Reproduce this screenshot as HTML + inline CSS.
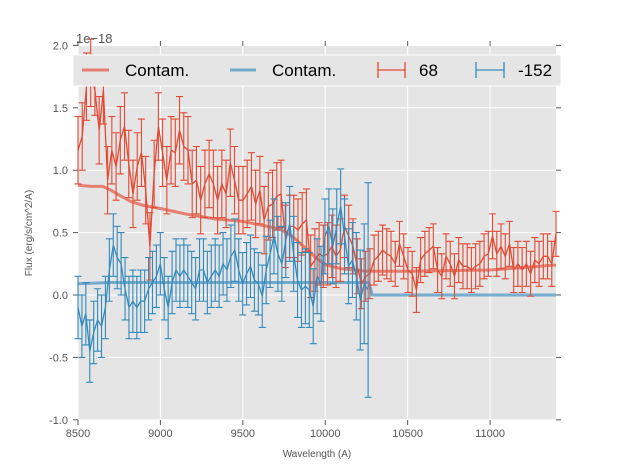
<!DOCTYPE html>
<html><head><meta charset="utf-8"><style>
body{margin:0;background:#fff}
svg text{font-family:"Liberation Sans",sans-serif}
</style></head><body>
<svg id="c" width="617" height="467" xmlns="http://www.w3.org/2000/svg">
<rect x="78" y="46" width="478" height="374" fill="#e5e5e5"/>
<g id="grid"></g><g id="ticks"></g><g id="series"></g>
<text x="76" y="43" font-size="13" fill="#555">1e−18</text>
<text x="317" y="457" font-size="10" fill="#555" text-anchor="middle">Wavelength (A)</text>
<text transform="translate(32,233) rotate(-90)" font-size="10" fill="#555" text-anchor="middle">Flux (erg/s/cm^2/A)</text>
<g>
<rect x="73" y="55" width="488" height="31" fill="#e5e5e5" stroke="#fff" stroke-width="1"/>
<line x1="82" y1="70" x2="109" y2="70" stroke="#E24A33" stroke-opacity="0.65" stroke-width="3"/>
<text x="125" y="76" font-size="17" fill="#000">Contam.</text>
<line x1="230" y1="70" x2="256" y2="70" stroke="#348ABD" stroke-opacity="0.65" stroke-width="3"/>
<text x="272" y="76" font-size="17" fill="#000">Contam.</text>
<path d="M378 62V78M378 70H405M405 62V78" stroke="#E24A33" fill="none" stroke-width="1.3"/>
<text x="419" y="76" font-size="17" fill="#000">68</text>
<path d="M476 62V78M476 70H504M504 62V78" stroke="#348ABD" fill="none" stroke-width="1.3"/>
<text x="518" y="76" font-size="17" fill="#000">-152</text>
</g>
</svg>
<script>
const xTicks=[8500,9000,9500,10000,10500,11000];
const yTicks=[-1.0,-0.5,0.0,0.5,1.0,1.5,2.0];
const redRange=[8500,11400];
const blueRange=[8500,10260];
const redVals=[1.16,1.27,1.67,1.78,1.64,1.32,1.64,0.92,1.16,1.03,1.24,1.35,1.05,0.81,1.03,1.14,0.84,0.39,0.97,1.35,
1.14,0.92,1.16,1.14,1.32,1.19,1.16,0.89,0.92,0.76,0.89,0.97,0.89,0.76,0.89,0.81,
1.06,0.92,0.76,0.76,0.81,0.87,0.73,0.84,0.60,0.71,0.73,0.79,0.81,0.47,0.55,0.55,0.52,0.57,0.60,0.23,
0.28,0.33,0.31,0.33,0.39,0.31,0.36,0.55,0.47,0.39,0.23,0.09,0.15,0.17,0.28,0.31,0.36,0.33,0.31,
0.25,0.41,0.31,0.20,0.17,0.04,0.28,0.33,0.36,0.39,0.20,0.15,0.31,0.25,0.15,0.28,0.23,0.23,0.20,0.23,
0.25,0.31,0.33,0.47,0.33,0.39,0.31,0.41,0.20,0.25,0.20,0.25,0.17,0.28,0.25,0.31,0.31,0.25,0.49];
const redErrs=[0.27,0.27,0.27,0.27,0.2,0.27,0.27,0.27,0.27,0.27,0.27,0.27,0.27,0.27,0.27,0.27,0.27,0.27,0.27,0.27,
0.27,0.27,0.27,0.27,0.27,0.27,0.27,0.27,0.27,0.27,0.27,0.27,0.27,0.27,0.27,0.27,
0.27,0.27,0.27,0.27,0.27,0.27,0.27,0.27,0.27,0.27,0.27,0.27,0.27,0.25,0.25,0.25,0.25,0.25,0.25,0.25,
0.25,0.25,0.25,0.25,0.25,0.25,0.25,0.25,0.25,0.22,0.22,0.2,0.2,0.2,0.2,0.2,0.2,0.2,0.2,
0.18,0.18,0.18,0.18,0.18,0.18,0.18,0.18,0.18,0.18,0.18,0.18,0.18,0.18,0.18,0.18,0.18,0.18,0.18,0.18,
0.18,0.18,0.18,0.18,0.18,0.18,0.18,0.18,0.18,0.18,0.18,0.18,0.18,0.18,0.18,0.18,0.18,0.18,0.18];
const blueVals=[-0.1,-0.25,-0.15,-0.45,-0.3,-0.2,-0.25,-0.1,0.2,0.4,0.3,0.25,0.05,-0.1,-0.05,-0.1,-0.05,-0.05,0.05,0.1,
0.15,0.25,0.05,-0.1,0.1,0.2,0.15,0.2,0.15,0.1,0.05,0.2,0.2,0.1,0.15,0.2,0.15,0.25,0.2,
0.31,0.36,0.20,0.09,0.17,0.23,0.12,0.09,-0.01,0.20,0.33,0.47,0.33,0.25,0.44,0.57,0.33,0.12,0.04,0.07,
0.04,-0.09,0.15,0.09,0.47,0.55,0.39,0.55,0.71,0.47,0.23,0.28,0.15,-0.04,0.09,0.04];
const blueErrs=[0.25,0.25,0.25,0.25,0.25,0.25,0.25,0.25,0.25,0.25,0.25,0.25,0.25,0.25,0.25,0.25,0.25,0.25,0.25,0.25,
0.25,0.25,0.25,0.25,0.25,0.25,0.25,0.25,0.25,0.25,0.25,0.25,0.25,0.25,0.25,0.25,0.25,0.25,0.25,
0.25,0.25,0.25,0.25,0.25,0.25,0.25,0.25,0.25,0.27,0.27,0.3,0.3,0.3,0.3,0.3,0.3,0.3,0.3,0.3,
0.3,0.3,0.3,0.3,0.3,0.3,0.3,0.3,0.3,0.3,0.3,0.3,0.35,0.4,0.48,0.86];
const redContamX=[8500,8580,8650,8700,8750,8820,8888,9010,9150,9330,9500,9725,9800,9885,9950,10005,10100,10250,10500,11000,11400];
const redContamY=[0.88,0.87,0.87,0.84,0.80,0.75,0.72,0.69,0.65,0.61,0.59,0.53,0.47,0.37,0.29,0.24,0.21,0.19,0.19,0.20,0.24];
const blueContamX=[8500,8700,9000,9500,10000,10265,10285,11400];
const blueContamY=[0.09,0.10,0.10,0.10,0.10,0.10,0.0,0.0];
const xs=v=>78+(v-8500)*478/2900;
const ys=v=>295-v*124.8;
const NS="http://www.w3.org/2000/svg";
function mk(p,t,a){const e=document.createElementNS(NS,t);for(const k in a)e.setAttribute(k,a[k]);p.appendChild(e);return e;}
const G=document.getElementById('grid'),T=document.getElementById('ticks'),S=document.getElementById('series');
xTicks.forEach(v=>{const x=xs(v);
 const l=mk(G,'line',{x1:x,x2:x,y1:46,y2:420,stroke:'#fff','stroke-width':1});
 
 
 mk(T,'line',{x1:x,x2:x,y1:420,y2:425,stroke:'#555'});mk(T,'line',{x1:x,x2:x,y1:41,y2:46,stroke:'#555'});
 const t=mk(T,'text',{x:x,y:437,'font-size':11,fill:'#555','text-anchor':'middle'});t.textContent=v;
 
 });
yTicks.forEach(v=>{const y=ys(v);
 const l=mk(G,'line',{x1:78,x2:556,y1:y,y2:y,stroke:'#fff','stroke-width':1});
 
 
 mk(T,'line',{x1:73,x2:78,y1:y,y2:y,stroke:'#555'});mk(T,'line',{x1:556,x2:561,y1:y,y2:y,stroke:'#555'});
 const t=mk(T,'text',{x:68,y:y+4,'font-size':11,fill:'#555','text-anchor':'end'});t.textContent=v.toFixed(1);
 
 });
function line(X,Y,col,w,op,name){const d=X.map((x,i)=>(i?'L':'M')+xs(x).toFixed(1)+' '+ys(Y[i]).toFixed(1)).join('');
 const p=mk(S,'path',{d:d,fill:'none',stroke:col,'stroke-width':w,'stroke-opacity':op,'stroke-linejoin':'round'});
 
 }
function errs(vals,es,range,col,name){const g=mk(S,'g',{stroke:col,'stroke-width':1.1,fill:'none'});
 
 
 const step=(range[1]-range[0])/(vals.length-1);
 let d='',ln='';
 vals.forEach((v,i)=>{const x=xs(range[0]+i*step),y1=ys(v-es[i]),y2=ys(v+es[i]);
  d+=`M${x} ${y1}V${y2}M${x-3.5} ${y1}H${x+3.5}M${x-3.5} ${y2}H${x+3.5}`;
  ln+=(i?'L':'M')+x.toFixed(1)+' '+ys(v).toFixed(1);});
 mk(g,'path',{d:d});mk(g,'path',{d:ln,'stroke-width':1.3});}
line(redContamX,redContamY,'#E24A33',3,0.65,'red-contam-line');
line(blueContamX,blueContamY,'#348ABD',3,0.65,'blue-contam-line');
errs(redVals,redErrs,redRange,'#E24A33','series-68');
errs(blueVals,blueErrs,blueRange,'#348ABD','series-minus-152');
</script>
</body></html>
